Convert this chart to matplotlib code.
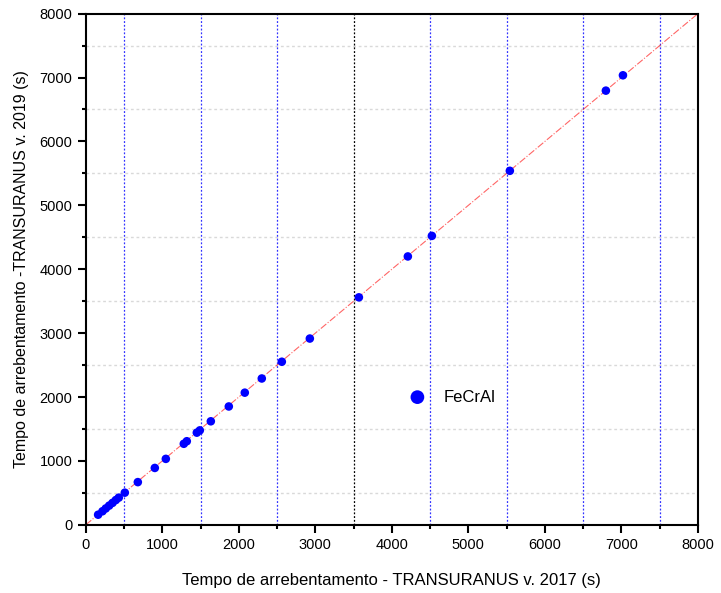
import numpy as np
import matplotlib.pyplot as plt
from matplotlib.ticker import MultipleLocator

plt.rcParams['font.family'] = ['Liberation Sans', 'DejaVu Sans']

# burst time, TRANSURANUS v2017 vs v2019 (s)
t2017 = [161, 218, 261, 305, 349, 392, 431, 510, 680, 902, 1046, 1281, 1320,
         1451, 1490, 1634, 1869, 2078, 2300, 2562, 2928, 3569, 4209, 4523,
         5542, 6797, 7020]
t2019 = [158, 212, 256, 300, 343, 387, 425, 503, 668, 890, 1032, 1268, 1308,
         1442, 1478, 1620, 1852, 2068, 2290, 2552, 2915, 3560, 4200, 4522,
         5540, 6795, 7035]
vlines_blue = [500, 1500, 2500, 4500, 5500, 6500, 7500]
vlines_black = [3500]

fig = plt.figure(figsize=(7.21, 5.93), dpi=100)
ax = fig.add_axes([0.119, 0.115, 0.849, 0.862])

for y in np.arange(500, 8000, 1000):
    ax.axhline(y, color='#d9d9d9', ls=(0, (2, 2)), lw=1, zorder=0)
for x in vlines_blue:
    ax.axvline(x, color='blue', ls=(0, (1.5, 1.5)), lw=0.9, alpha=0.8, zorder=1)
for x in vlines_black:
    ax.axvline(x, color='black', ls=(0, (1.5, 1.5)), lw=0.9, zorder=1)

ax.plot([0, 8000], [0, 8000], color='red', ls='-.', lw=0.8, alpha=0.6, zorder=2)
ax.scatter(t2017, t2019, s=38, color='blue', edgecolors='none', zorder=3,
           label='FeCrAl')

ax.set_xlim(0, 8000)
ax.set_ylim(0, 8000)
ax.xaxis.set_major_locator(MultipleLocator(1000))
ax.xaxis.set_minor_locator(MultipleLocator(500))
ax.yaxis.set_major_locator(MultipleLocator(1000))
ax.yaxis.set_minor_locator(MultipleLocator(500))
ax.tick_params(which='major', direction='out', length=6, width=1.5, labelsize=10.5)
ax.tick_params(which='minor', direction='out', length=3, width=1.5)
for s in ax.spines.values():
    s.set_linewidth(1.5)

ax.set_xlabel('Tempo de arrebentamento - TRANSURANUS v. 2017 (s)', fontsize=12, labelpad=15)
ax.set_ylabel('Tempo de arrebentamento -TRANSURANUS v. 2019 (s)', fontsize=11.5, labelpad=8)

ax.legend(loc='center left', bbox_to_anchor=(0.49, 0.25), frameon=False,
          fontsize=12, markerscale=1.6, handletextpad=0.6)

fig.savefig('out.png', dpi=100)
